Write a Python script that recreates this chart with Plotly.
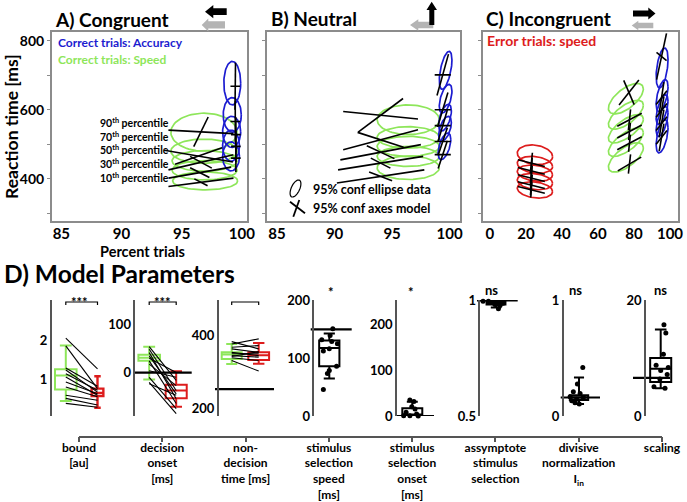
import numpy as np
import plotly.graph_objects as go

# ======================= DATA: panels A-C =======================
# 95% confidence ellipses of data: centre (x, y), half-width (x), half-height (y), shear (y)
A_ACC_CX = [99.1, 99.1, 99.15, 99.2, 99.2]
A_ACC_CY = [465, 496, 536, 585, 677]
A_ACC_RX = [0.7, 0.7, 0.75, 0.75, 0.7]
A_ACC_RY = [42, 45, 45, 50, 63]
A_ACC_SH = [0, 0, 0, 0, 0]
A_SPD_CX = [96.95, 96.9, 96.9, 96.85, 96.85]
A_SPD_CY = [394, 425, 452, 480, 535]
A_SPD_RX = [2.7, 2.7, 2.7, 2.75, 2.75]
A_SPD_RY = [26, 28, 30, 35, 55]
A_SPD_SH = [0, 0, 0, 0, 0]
# 95% confidence axes of model: centre, long half-axis (dx, dy), short half-axis (dx, dy)
A_SPD_MX = [96.6, 96.5, 96.6, 96.4, 96.6]
A_SPD_MY = [390, 418, 448, 466, 536]
A_SPD_LX = [2.7, 2.6, 2.7, 2.85, 2.7]
A_SPD_LY = [12, 16, 22, -17, -5]
A_SPD_SX = [0.55, 0.8, 0.9, 1.95, 0.6]
A_SPD_SY = [-10, -14, -17, 24, 43]
A_ACC_MX = [99.5, 99.5, 99.5, 99.45, 99.45]
A_ACC_MY = [460, 494, 528, 566, 668]
A_ACC_LX = [0, 0, 0, 0, 0.02]
A_ACC_LY = [40, 45, 50, 60, 68]
A_ACC_SX = [0.4, 0.4, 0.4, 0.4, 0.4]
A_ACC_SY = [0, 0, 0, 0, 0]

B_ACC_CX = [99.55, 99.6, 99.6, 99.65, 99.65]
B_ACC_CY = [494, 545, 577, 632, 714]
B_ACC_RX = [0.55, 0.55, 0.55, 0.55, 0.55]
B_ACC_RY = [33, 31, 33, 35, 46]
B_ACC_SH = [20, 18, 20, 22, 30]
B_SPD_CX = [96.4, 96.4, 96.4, 96.4, 96.4]
B_SPD_CY = [432, 465, 494, 520, 571]
B_SPD_RX = [2.7, 2.7, 2.7, 2.7, 2.7]
B_SPD_RY = [34, 29, 29, 31, 43]
B_SPD_SH = [0, 0, 0, 0, 0]
B_SPD_MX = [94.0, 94.0, 94.0, 94.0, 94.0]
B_SPD_MY = [407, 445.5, 477, 513, 584]
B_SPD_LX = [3.8, 3.7, 3.5, 3.25, 3.25]
B_SPD_LY = [19, 19.5, 22, 29, -11]
B_SPD_SX = [1.0, 0.85, 1.2, 2.0, 1.95]
B_SPD_SY = [-12.5, -14.5, -18.5, -21.5, 48.5]
B_ACC_MX = [99.4, 99.4, 99.4, 99.4, 99.4]
B_ACC_MY = [470, 508, 554, 600, 701]
B_ACC_LX = [0.4, 0.4, 0.4, 0.45, 0.5]
B_ACC_LY = [40, 40, 45, 50, 60]
B_ACC_SX = [0.7, 0.7, 0.7, 0.7, 0.7]
B_ACC_SY = [0, 0, 0, 0, 0]

C_ERR_CX = [25, 25, 25, 25, 25]
C_ERR_CY = [368, 392, 416.5, 440.6, 469.6]
C_ERR_RX = [9.8, 9.8, 9.8, 9.8, 9.8]
C_ERR_RY = [23, 23, 23, 24, 28]
C_ERR_SH = [-5, -5, -5, -5, -5]
C_ERR_MX = [23, 23, 23, 23, 23]
C_ERR_MY = [368, 382, 402, 423, 445.5]
C_ERR_LX = [0.3, 0.5, 0.5, 0.5, 0.6]
C_ERR_LY = [22, 30, 35, 38, 30]
C_ERR_SX = [7.5, 7.5, 7.5, 7.5, 7.5]
C_ERR_SY = [-9.7, -9.7, -9.7, -9.7, -9.7]
C_SPD_CX = [75.5, 75.5, 75.5, 75.5, 75.5]
C_SPD_CY = [462, 506, 545, 585.5, 632]
C_SPD_RX = [9.7, 9.7, 9.7, 9.7, 9.7]
C_SPD_RY = [32, 30, 30, 31, 34]
C_SPD_SH = [28, 28, 28, 28, 28]
C_SPD_MX = [77.5, 77.5, 77.5, 77.5, 77.2]
C_SPD_MY = [443, 503, 537, 571, 650]
C_SPD_LX = [0.6, 0.5, 0.5, 0.6, -2.9]
C_SPD_LY = [28, 25, 25, 30, 35]
C_SPD_SX = [6.5, 6.8, 6.8, 6.8, 5.5]
C_SPD_SY = [20, 19, 19, 19, 36]
C_ACC_CX = [95.6, 95.6, 95.6, 95.6, 95.6]
C_ACC_CY = [523, 566, 600, 641, 721]
C_ACC_RX = [3.3, 3.3, 3.3, 3.3, 3.3]
C_ACC_RY = [41, 35, 35, 39, 52]
C_ACC_SH = [25, 25, 25, 25, 25]
C_ACC_MX = [95.3, 95.3, 95.3, 95.3, 95.3]
C_ACC_MY = [520, 560, 598, 635, 754]
C_ACC_LX = [1.3, 1.3, 1.3, 1.3, 2.75]
C_ACC_LY = [40, 40, 40, 45, 67]
C_ACC_SX = [3.0, 3.0, 3.0, 3.0, 2.8]
C_ACC_SY = [20, 20, 20, 20, -12]

A_XTICKS = [85, 90, 95, 100]
C_XTICKS = [0, 20, 40, 60, 80, 100]
RT_TICKS = [400, 600, 800]
RT_MINOR = [300, 500, 700]
PERCENTILES = ["10", "30", "50", "70", "90"]

# ======================= DATA: panel D =======================
PARAM_NAMES = ["bound<br>[au]", "decision<br>onset<br>[ms]", "non-<br>decision<br>time [ms]",
               "stimulus<br>selection<br>speed<br>[ms]", "stimulus<br>selection<br>onset<br>[ms]",
               "assymptote<br>stimulus<br>selection", "divisive<br>normalization<br>I<sub>in</sub>",
               "scaling"]
# box stats: q1, median, q3, lower whisker, upper whisker
BOUND_SPD = [0.75, 1.11, 1.27, 0.45, 1.88]
BOUND_ACC = [0.58, 0.66, 0.77, 0.28, 1.09]
ONSET_SPD = [25, 31, 37, -14, 54]
ONSET_ACC = [-53, -37, -25, -71, 3]
NDT_SPD = [336, 348, 354, 322, 377]
NDT_ACC = [333, 346, 354, 323, 380]
# per-subject (speed, accuracy) values
BOUND_SUBJ_SPD = [2.07, 1.87, 1.3, 1.25, 1.15, 1.07, 0.94, 0.81, 0.6, 0.52, 0.39]
BOUND_SUBJ_ACC = [1.28, 0.77, 0.83, 0.68, 0.73, 0.6, 0.64, 0.56, 0.47, 0.35, 0.29]
ONSET_SUBJ_SPD = [54, 48.7, 41.7, 35, 30, 24.6, 17.9, 4, -9.6, -20, -23]
ONSET_SUBJ_ACC = [-16, -37, -54, -44, 0.6, -64, -27, -9.6, -74.5, -85, -47]
NDT_SUBJ_SPD = [383.5, 377, 368, 363.6, 354, 350, 345, 342.6, 339, 331.7]
NDT_SUBJ_ACC = [363.6, 391, 372.6, 354, 345, 350, 341, 356, 331.7, 302.5]
SEL_SPEED_BOX = [86, 118, 131, 65, 143]
SEL_SPEED_PTS = [151, 139.6, 132, 129, 125, 116.7, 112.6, 86, 79, 73.6, 46]
SEL_SPEED_JIT = [0.13, 0.03, -0.28, 0.09, 0.3, 0.0, -0.22, 0.27, 0.0, -0.07, -0.22]
SEL_ONSET_BOX = [0, 3, 17, 0, 31]
SEL_ONSET_PTS = [34.8, 31.7, 20, 15, 7.9, 4.3, 0.7, 0.7, 0]
SEL_ONSET_JIT = [-0.09, 0.06, -0.02, 0.1, -0.23, 0.16, -0.09, -0.32, 0.22]
ASYM_BOX = [0.982, 0.99, 0.998, 0.97, 1.0]
ASYM_PTS = [0.997, 0.997, 0.991, 0.986, 0.983, 0.978, 0.988, 0.964]
ASYM_JIT = [-0.48, -0.28, -0.1, 0.05, -0.04, 0.15, 0.26, 0.09]
DIVN_BOX = [0.138, 0.16, 0.18, 0.103, 0.333]
DIVN_PTS = [0.42, 0.276, 0.21, 0.195, 0.166, 0.161, 0.144, 0.132, 0.114, 0.103]
DIVN_JIT = [0.14, -0.06, -0.21, 0.04, -0.33, 0.16, -0.09, -0.27, -0.15, 0.01]
SCAL_BOX = [5.9, 8.2, 10.05, 4.8, 15]
SCAL_PTS = [15.8, 14.4, 10.7, 8.8, 8.4, 7.9, 7.2, 6.4, 5.05, 4.8]
SCAL_JIT = [0.12, 0.19, 0.1, -0.17, 0.28, 0, 0.24, -0.03, -0.25, 0.16]
REF_VALUES = [None, 0, 253, 150, 0, 1, 0.16, 6.6]
SIG_LABELS = ["***", "***", "", "*", "*", "ns", "ns", "ns"]
D_YRANGES = [[0.066, 3.05], [-90, 151], [179, 498], [0, 201], [0, 252], [0.5, 1.002], [0, 1.004], [0, 20.1]]
D_YTICKS = [[1, 2], [0, 100], [200, 400], [0, 100, 200], [0, 100, 200], [0.5, 1], [0, 1], [0, 20]]

# ======================= STYLE / LAYOUT =======================
W, H = 687, 502
FONT = "Lato"
GREEN = "#8ee65a"
BLUE = "#1c1cd0"
RED = "#dd1c1c"
BOXGREY = "#8c8c8c"
AXDARK = "#555555"


def fx(p):
    return p / W


def fy(p):
    return 1 - p / H


def bold(size, color="black"):
    return dict(family=FONT, size=size, color=color, weight="bold")


fig = go.Figure()


def ax_ids(k):
    s = "" if k == 1 else str(k)
    return "x" + s, "y" + s


def add_ellipses(k, cx, cy, rx, ry, sh, color, width=1.7):
    t = np.linspace(0, 2 * np.pi, 81)
    xs, ys = [], []
    for i in range(len(cx)):
        xs += list(cx[i] + rx[i] * np.cos(t)) + [None]
        ys += list(cy[i] + ry[i] * np.sin(t) + sh[i] * np.cos(t)) + [None]
    xa, ya = ax_ids(k)
    fig.add_trace(go.Scatter(x=xs, y=ys, mode="lines", line=dict(color=color, width=width),
                             xaxis=xa, yaxis=ya, hoverinfo="skip"))


def add_crosses(k, mx, my, lx, ly, sx, sy, width=1.6):
    xs, ys = [], []
    for i in range(len(mx)):
        xs += [mx[i] - lx[i], mx[i] + lx[i], None, mx[i] - sx[i], mx[i] + sx[i], None]
        ys += [my[i] - ly[i], my[i] + ly[i], None, my[i] - sy[i], my[i] + sy[i], None]
    xa, ya = ax_ids(k)
    fig.add_trace(go.Scatter(x=xs, y=ys, mode="lines", line=dict(color="black", width=width),
                             xaxis=xa, yaxis=ya, hoverinfo="skip"))


# --- panel A
add_ellipses(1, A_SPD_CX, A_SPD_CY, A_SPD_RX, A_SPD_RY, A_SPD_SH, GREEN)
add_ellipses(1, A_ACC_CX, A_ACC_CY, A_ACC_RX, A_ACC_RY, A_ACC_SH, BLUE)
add_crosses(1, A_SPD_MX, A_SPD_MY, A_SPD_LX, A_SPD_LY, A_SPD_SX, A_SPD_SY)
add_crosses(1, A_ACC_MX, A_ACC_MY, A_ACC_LX, A_ACC_LY, A_ACC_SX, A_ACC_SY)
# --- panel B
add_ellipses(2, B_SPD_CX, B_SPD_CY, B_SPD_RX, B_SPD_RY, B_SPD_SH, GREEN)
add_ellipses(2, B_ACC_CX, B_ACC_CY, B_ACC_RX, B_ACC_RY, B_ACC_SH, BLUE)
add_crosses(2, B_SPD_MX, B_SPD_MY, B_SPD_LX, B_SPD_LY, B_SPD_SX, B_SPD_SY)
add_crosses(2, B_ACC_MX, B_ACC_MY, B_ACC_LX, B_ACC_LY, B_ACC_SX, B_ACC_SY)
# --- panel C
add_ellipses(3, C_ERR_CX, C_ERR_CY, C_ERR_RX, C_ERR_RY, C_ERR_SH, RED)
add_ellipses(3, C_SPD_CX, C_SPD_CY, C_SPD_RX, C_SPD_RY, C_SPD_SH, GREEN)
add_ellipses(3, C_ACC_CX, C_ACC_CY, C_ACC_RX, C_ACC_RY, C_ACC_SH, BLUE)
add_crosses(3, C_ERR_MX, C_ERR_MY, C_ERR_LX, C_ERR_LY, C_ERR_SX, C_ERR_SY)
add_crosses(3, C_SPD_MX, C_SPD_MY, C_SPD_LX, C_SPD_LY, C_SPD_SX, C_SPD_SY)
add_crosses(3, C_ACC_MX, C_ACC_MY, C_ACC_LX, C_ACC_LY, C_ACC_SX, C_ACC_SY)

layout = dict(template="none", width=W, height=H, margin=dict(l=0, r=0, t=0, b=0, pad=0),
              paper_bgcolor="white", plot_bgcolor="white", showlegend=False,
              font=dict(family=FONT, size=13, color="black"))

TOP_PX = [(51.7, 246.7, [84.2, 100.4], A_XTICKS),
          (266.7, 460.0, [84.1, 100.9], A_XTICKS),
          (482.7, 678.3, [-4.0, 104.6], C_XTICKS)]
for i, (x0, x1, rng, xt) in enumerate(TOP_PX):
    k = i + 1
    xa, ya = ax_ids(k)
    layout["xaxis" + xa[1:]] = dict(domain=[fx(x0), fx(x1)], range=rng, anchor=ya, showline=True, mirror=True,
                                    linecolor=BOXGREY, linewidth=1.5, ticks="", tickvals=xt,
                                    tickfont=bold(15), ticklabelstandoff=-2, showgrid=False,
                                    zeroline=False, automargin=False)
    layout["yaxis" + ya[1:]] = dict(domain=[fy(221), fy(32)], range=[278, 825], anchor=xa, showline=True,
                                    mirror=True, linecolor=BOXGREY, linewidth=1.5, ticks="outside",
                                    ticklen=3, tickcolor=BOXGREY, tickvals=RT_TICKS,
                                    minor=dict(tickvals=RT_MINOR, ticks="outside", ticklen=3,
                                               tickcolor=BOXGREY, showgrid=False),
                                    showticklabels=(k == 1), tickfont=bold(14), showgrid=False,
                                    zeroline=False, automargin=False)

# ---------------- panel D ----------------
AXIS_PX = [50.7, 134.3, 217.7, 313.3, 396.0, 479.3, 562.7, 645.0]
CENTER_PX = [65.8, 149.2, 231.7, 329.3, 412.3, 496.0, 579.0, 660.7]
UNIT_PX = [31.7, 27, 27, 27, 27, 27, 27, 27]
REF_PX = [None, (134.3, 191.7), (215, 274), (310.7, 351.7), (396, 434), (477, 517.7), (560.7, 600), (633, 670)]
SIG_PX = [(79.5, 302), (162.7, 302), None, (330.7, 292), (410.7, 292), (491.7, 290), (575, 290), (660.7, 290)]


def to_x(j, p):
    return (p - CENTER_PX[j]) / UNIT_PX[j]


for j in range(8):
    k = 4 + j
    xa, ya = ax_ids(k)
    d0 = AXIS_PX[j] - 15
    d1 = min(AXIS_PX[j] + 62, W - 1)
    layout["xaxis" + xa[1:]] = dict(domain=[fx(d0), fx(d1)], range=[to_x(j, d0), to_x(j, d1)], anchor=ya,
                                    visible=False, automargin=False)
    ticks = D_YTICKS[j]
    layout["yaxis" + ya[1:]] = dict(domain=[fy(416), fy(300)], range=D_YRANGES[j], anchor="free",
                                    position=fx(AXIS_PX[j]), showline=True,
                                    linecolor=AXDARK, linewidth=1.5, ticks="", tickvals=ticks,
                                    ticktext=[("%g" % v) for v in ticks], tickfont=bold(13),
                                    showgrid=False, zeroline=False, automargin=False)
    if REF_VALUES[j] is not None:
        p0, p1 = REF_PX[j]
        fig.add_trace(go.Scatter(x=[to_x(j, p0), to_x(j, p1)], y=[REF_VALUES[j]] * 2, mode="lines",
                                 line=dict(color="black", width=2.2), xaxis=xa, yaxis=ya, hoverinfo="skip"))


def add_box(k, stats, xpos, color, width, lw=2):
    xa, ya = ax_ids(k)
    fig.add_trace(go.Box(x=[xpos], q1=[stats[0]], median=[stats[1]], q3=[stats[2]],
                         lowerfence=[stats[3]], upperfence=[stats[4]], width=width,
                         whiskerwidth=0.55, boxpoints=False, fillcolor="rgba(255,255,255,0)",
                         line=dict(color=color, width=lw), xaxis=xa, yaxis=ya, hoverinfo="skip"))


def add_pairs(k, a, b):
    xs, ys = [], []
    for va, vb in zip(a, b):
        xs += [0, 1, None]
        ys += [va, vb, None]
    xa, ya = ax_ids(k)
    fig.add_trace(go.Scatter(x=xs, y=ys, mode="lines", line=dict(color="black", width=1.1),
                             xaxis=xa, yaxis=ya, hoverinfo="skip"))


def add_bracket(k, j):
    xa, ya = ax_ids(k)
    lo, hi = D_YRANGES[j]
    top = hi - (hi - lo) * 2.0 / 116
    dy = (hi - lo) * 3.0 / 116
    fig.add_trace(go.Scatter(x=[0, 0, 1, 1], y=[top - dy, top, top, top - dy], mode="lines",
                             line=dict(color="black", width=1.2), xaxis=xa, yaxis=ya,
                             hoverinfo="skip", cliponaxis=False))


def add_points(k, vals, jit):
    xa, ya = ax_ids(k)
    fig.add_trace(go.Scatter(x=jit, y=vals, mode="markers", marker=dict(color="black", size=5),
                             xaxis=xa, yaxis=ya, hoverinfo="skip", cliponaxis=False))


add_box(4, BOUND_SPD, 0, GREEN, 0.68)
add_box(4, BOUND_ACC, 1, RED, 0.37, 2.4)
add_pairs(4, BOUND_SUBJ_SPD, BOUND_SUBJ_ACC)
add_bracket(4, 0)
add_box(5, ONSET_SPD, 0, GREEN, 0.8)
add_box(5, ONSET_ACC, 1, RED, 0.78)
add_pairs(5, ONSET_SUBJ_SPD, ONSET_SUBJ_ACC)
add_bracket(5, 1)
add_box(6, NDT_SPD, 0, GREEN, 0.74)
add_box(6, NDT_ACC, 1, RED, 0.77)
add_pairs(6, NDT_SUBJ_SPD, NDT_SUBJ_ACC)
add_bracket(6, 2)
add_box(7, SEL_SPEED_BOX, 0, "black", 0.75)
add_points(7, SEL_SPEED_PTS, SEL_SPEED_JIT)
add_box(8, SEL_ONSET_BOX, 0, "black", 0.74)
add_points(8, SEL_ONSET_PTS, SEL_ONSET_JIT)
add_box(9, ASYM_BOX, 0, "black", 0.7)
add_points(9, ASYM_PTS, ASYM_JIT)
add_box(10, DIVN_BOX, 0, "black", 0.68)
add_points(10, DIVN_PTS, DIVN_JIT)
add_box(11, SCAL_BOX, 0, "black", 0.78)
add_points(11, SCAL_PTS, SCAL_JIT)

# category axis with parameter names
fig.add_trace(go.Scatter(x=[0, len(PARAM_NAMES) - 1], y=[0, 0], mode="markers", marker=dict(opacity=0),
                         xaxis="x12", yaxis="y12", hoverinfo="skip"))
layout["xaxis12"] = dict(domain=[fx(79), fx(662)], range=[0, len(PARAM_NAMES) - 1], anchor="y12",
                         showline=True, linecolor=AXDARK, linewidth=1.5, ticks="outside", ticklen=5,
                         tickcolor=AXDARK, tickwidth=1.5, tickvals=list(range(len(PARAM_NAMES))),
                         ticktext=PARAM_NAMES, tickfont=bold(12), ticklabelstandoff=-5,
                         showgrid=False, zeroline=False, automargin=False)
layout["yaxis12"] = dict(domain=[fy(435.7), fy(435.7) + 0.01], range=[0, 1], anchor="x12", visible=False,
                         automargin=False)

# ---------------- annotations ----------------
ann = []


def note(text, x, y, size, color="black", xanchor="left", yanchor="middle", angle=0):
    ann.append(dict(text=text, x=fx(x), y=fy(y), xref="paper", yref="paper", showarrow=False,
                    xanchor=xanchor, yanchor=yanchor, textangle=angle, font=bold(size, color)))


note("A) Congruent", 53, 20, 19)
note("B) Neutral", 269, 19, 19)
note("C) Incongruent", 484, 19, 19)
note("D) Model Parameters", 2, 273, 24.5)
note("Reaction time [ms]", 11, 127, 17.5, xanchor="center", angle=-90)
note("Percent trials", 142, 251, 14.5, xanchor="center")
note("Correct trials: Accuracy", 56, 42.3, 12, BLUE)
note("Correct trials: Speed", 56, 59, 12, GREEN)
note("Error trials: speed", 484.5, 40.7, 14, RED)
note("95% conf ellipse data", 311, 189.3, 12.5)
note("95% conf axes model", 311, 208.3, 12.5)
for lab, yy in zip(PERCENTILES, [177.3, 164, 150, 136, 122.7]):
    note(lab + "<sup>th</sup> percentile", 171, yy, 10.5, xanchor="right")
for j, lab in enumerate(SIG_LABELS):
    if lab and SIG_PX[j]:
        note(lab, SIG_PX[j][0], SIG_PX[j][1], 13, xanchor="center")
layout["annotations"] = ann


# ---------------- decorative arrow icons & legend glyphs ----------------
def poly(pts, color):
    path = "M " + " L ".join("%.5f,%.5f" % (fx(a), fy(b)) for a, b in pts) + " Z"
    return dict(type="path", path=path, xref="paper", yref="paper", fillcolor=color,
                line=dict(width=0), layer="above")


LIGHT = "#b4b4b4"
shapes = [
    poly([(201.7, 25), (208.3, 18.5), (208.3, 21.2), (225, 21.2), (225, 28.5), (208.3, 28.5), (208.3, 31.5)], LIGHT),
    poly([(205, 11.7), (213.3, 5), (213.3, 8.3), (226.7, 8.3), (226.7, 15), (213.3, 15), (213.3, 18.3)], "black"),
    poly([(410, 25), (418.3, 19.3), (418.3, 21.7), (433.3, 21.7), (433.3, 28.3), (418.3, 28.3), (418.3, 30.7)], LIGHT),
    poly([(431.7, 1.7), (437, 10), (434.3, 10), (434.3, 25), (429.3, 25), (429.3, 10), (426.5, 10)], "black"),
    poly([(631.7, 25.5), (638.3, 20.7), (638.3, 22.7), (653.3, 22.7), (653.3, 28.3), (638.3, 28.3), (638.3, 30.3)], LIGHT),
    poly([(633, 10.5), (648.3, 10.5), (648.3, 7.5), (655.5, 13.5), (648.3, 19.5), (648.3, 16.5), (633, 16.5)], "black"),
]
tt = np.linspace(0, 2 * np.pi, 40)
ex = 295.5 + 4.5 * np.cos(tt) + 3.0 * np.sin(tt)
ey = 188.5 - 8.5 * np.sin(tt)
shapes.append(dict(type="path", xref="paper", yref="paper", layer="above",
                   path="M " + " L ".join("%.5f,%.5f" % (fx(a), fy(b)) for a, b in zip(ex, ey)) + " Z",
                   line=dict(color="black", width=1.2)))
shapes.append(dict(type="line", xref="paper", yref="paper", x0=fx(290), y0=fy(201.7), x1=fx(305), y1=fy(213.3),
                   line=dict(color="black", width=1.8)))
shapes.append(dict(type="line", xref="paper", yref="paper", x0=fx(293.3), y0=fy(216.7), x1=fx(299.3), y1=fy(200),
                   line=dict(color="black", width=1.8)))
layout["shapes"] = shapes

fig.update_layout(**layout)
fig.write_html("out.html", config={"displayModeBar": False},
               post_script="document.body.style.margin='0px';")
